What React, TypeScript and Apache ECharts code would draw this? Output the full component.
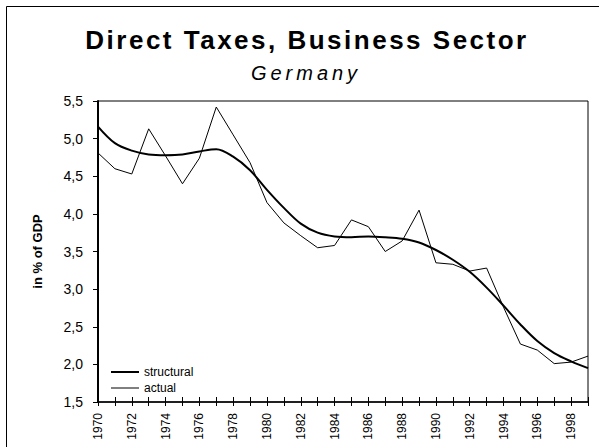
import React, { useEffect, useRef } from 'react';
import * as echarts from 'echarts';

const years = [
  '1970', '1971', '1972', '1973', '1974', '1975', '1976', '1977', '1978', '1979',
  '1980', '1981', '1982', '1983', '1984', '1985', '1986', '1987', '1988', '1989',
  '1990', '1991', '1992', '1993', '1994', '1995', '1996', '1997', '1998', '1999',
];

const structural = [
  5.16, 4.94, 4.84, 4.79, 4.78, 4.79, 4.83, 4.86, 4.76, 4.58,
  4.32, 4.08, 3.87, 3.75, 3.70, 3.69, 3.70, 3.69, 3.67, 3.62,
  3.52, 3.39, 3.23, 3.02, 2.78, 2.53, 2.31, 2.15, 2.04, 1.95,
];

const actual = [
  4.81, 4.60, 4.53, 5.13, 4.77, 4.40, 4.74, 5.42, 5.05, 4.68,
  4.15, 3.88, 3.71, 3.55, 3.58, 3.92, 3.83, 3.50, 3.64, 4.05,
  3.35, 3.33, 3.24, 3.28, 2.76, 2.27, 2.19, 2.01, 2.03, 2.11,
];

const TITLE = 'Direct Taxes, Business Sector';
const SUBTITLE = 'Germany';
const Y_NAME = 'in % of GDP';

export default function App() {
  const ref = useRef<HTMLDivElement>(null);

  useEffect(() => {
    if (!ref.current) return;
    const chart = echarts.init(ref.current, null, { renderer: 'svg', width: 599, height: 447 });
    const font = '"Liberation Sans", Arial, Helvetica, sans-serif';

    chart.setOption({
      animation: false,
      backgroundColor: '#ffffff',
      textStyle: { fontFamily: font, color: '#000' },
      graphic: [
        {
          type: 'rect',
          silent: true,
          shape: { x: 6.5, y: 6.5, width: 620, height: 470 },
          style: { fill: 'none', stroke: '#000', lineWidth: 1 },
        },
        {
          type: 'text',
          x: 307,
          y: 39.5,
          style: {
            text: TITLE,
            fontFamily: font,
            fontWeight: 'bold',
            fontSize: 26,
            fill: '#000',
            align: 'center',
            verticalAlign: 'middle',
          },
        },
        {
          type: 'text',
          x: 306,
          y: 73,
          style: {
            text: SUBTITLE,
            fontFamily: font,
            fontStyle: 'italic',
            fontSize: 20,
            fill: '#000',
            align: 'center',
            verticalAlign: 'middle',
          },
        },
      ],
      grid: {
        show: true,
        left: 98,
        right: 11,
        top: 101,
        bottom: 45,
        borderColor: '#000',
        borderWidth: 1,
        backgroundColor: 'transparent',
      },
      legend: {
        orient: 'vertical',
        left: 110,
        top: 366,
        itemWidth: 28,
        itemHeight: 10,
        itemGap: 4,
        padding: 0,
        itemStyle: { opacity: 0, borderWidth: 0 },
        textStyle: { fontFamily: font, fontSize: 12, color: '#000' },
        data: [
          { name: 'structural', lineStyle: { width: 2, color: '#000' } },
          { name: 'actual', lineStyle: { width: 1, color: '#000' } },
        ],
      },
      xAxis: [
        {
          type: 'category',
          data: years,
          boundaryGap: false,
          position: 'bottom',
          axisLine: { show: true, lineStyle: { color: '#000', width: 1.5 } },
          axisTick: { show: true, interval: 0, length: 4, lineStyle: { color: '#000', width: 1 } },
          axisLabel: {
            interval: 1,
            rotate: 90,
            margin: 11,
            fontSize: 12,
            fontFamily: font,
            color: '#000',
          },
          splitLine: { show: false },
        },
        {
          type: 'category',
          data: years,
          boundaryGap: false,
          position: 'bottom',
          axisLine: { show: false },
          axisTick: { show: true, inside: true, interval: 0, length: 5, lineStyle: { color: '#000', width: 1 } },
          axisLabel: { show: false },
          splitLine: { show: false },
        },
      ],
      yAxis: {
        type: 'value',
        min: 1.5,
        max: 5.5,
        interval: 0.5,
        name: Y_NAME,
        nameLocation: 'middle',
        nameRotate: 90,
        nameGap: 54,
        nameTextStyle: { fontFamily: font, fontSize: 13, fontWeight: 'bold', color: '#000' },
        axisLine: { show: true, lineStyle: { color: '#000', width: 2 } },
        axisTick: { show: true, length: 5, lineStyle: { color: '#000', width: 1 } },
        axisLabel: {
          margin: 15,
          fontSize: 14,
          fontFamily: font,
          color: '#000',
          formatter: (v: number) => v.toFixed(1).replace('.', ','),
        },
        splitLine: { show: false },
      },
      series: [
        {
          name: 'structural',
          type: 'line',
          xAxisIndex: 0,
          data: structural,
          smooth: 0.35,
          symbol: 'none',
          showSymbol: false,
          color: '#000',
          lineStyle: { color: '#000', width: 2 },
          z: 3,
        },
        {
          name: 'actual',
          type: 'line',
          xAxisIndex: 0,
          data: actual,
          symbol: 'none',
          showSymbol: false,
          color: '#000',
          lineStyle: { color: '#000', width: 1 },
          z: 2,
        },
      ],
    });

    const applySpacing = () => {
      const root = ref.current;
      if (!root) return;
      root.querySelectorAll('text').forEach((t) => {
        const s = t.textContent;
        if (s === TITLE) t.setAttribute('letter-spacing', '2.5');
        else if (s === SUBTITLE) t.setAttribute('letter-spacing', '4');
      });
    };
    chart.on('finished', applySpacing);
    chart.on('rendered', applySpacing);
    applySpacing();
    const raf = requestAnimationFrame(applySpacing);

    return () => {
      cancelAnimationFrame(raf);
      chart.dispose();
    };
  }, []);

  return (
    <div
      ref={ref}
      style={{ position: 'fixed', left: 0, top: 0, width: 599, height: 447, background: '#fff' }}
    />
  );
}
